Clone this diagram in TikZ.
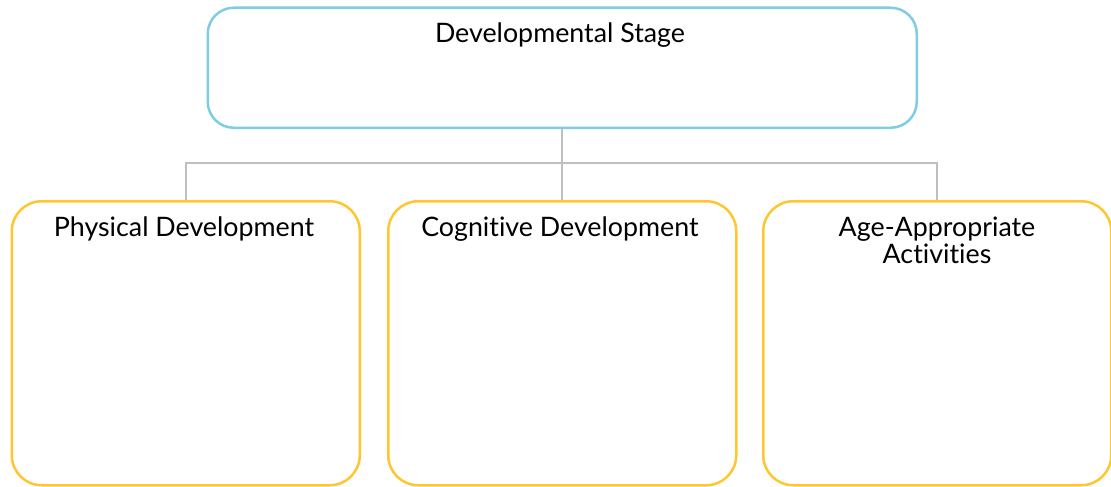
\documentclass[tikz,border=0pt]{standalone}
\usepackage{fontspec}
\setmainfont{Lato}[Ligatures=NoCommon]
\usepackage{xcolor}
\definecolor{stage-blue}{HTML}{7FCDE0}
\definecolor{area-yellow}{HTML}{FFC62E}
\definecolor{link-gray}{HTML}{BFBFBF}
\usepackage{tikz}
\tikzset{
  stagebox/.style={draw=stage-blue, line width=2.5pt, rounded corners=26pt,
    minimum width=709pt, minimum height=120pt, anchor=north west, inner sep=0pt},
  areabox/.style={draw=area-yellow, line width=2.5pt, rounded corners=30pt,
    minimum width=348pt, minimum height=284pt, anchor=north west, inner sep=0pt},
  boxtitle/.style={anchor=north, align=center, font=\fontsize{26.8}{27}\selectfont, inner sep=0pt},
  link/.style={draw=link-gray, line width=2pt}
}

\begin{document}
\begin{tikzpicture}[x=1pt, y=-1pt]

    % Background
    \useasboundingbox (0,0) rectangle (1111,487);

% Top box
\node[stagebox] (stage) at (206.5,6.5) {};
\node[boxtitle] (stagetitle) at (560,23) {Developmental Stage};

% Three boxes below
\node[areabox] (phys) at (10.5,200) {};
\node[areabox] (cog) at (387,200) {};
\node[areabox] (age) at (762,200) {};

\node[boxtitle] (phystitle) at (184,216.5) {Physical Development};
\node[boxtitle] (cogtitle) at (560,216.5) {Cognitive Development};
\node[boxtitle] (agetitle) at (937,216.5) {Age-Appropriate\\Activities};

% Connectors
\coordinate (bus) at (560,163);
\draw[link] (stage.south) -- (cog.north);
\draw[link] (phys.north) |- (age.north |- bus) -- (age.north);

\end{tikzpicture}
\end{document}
